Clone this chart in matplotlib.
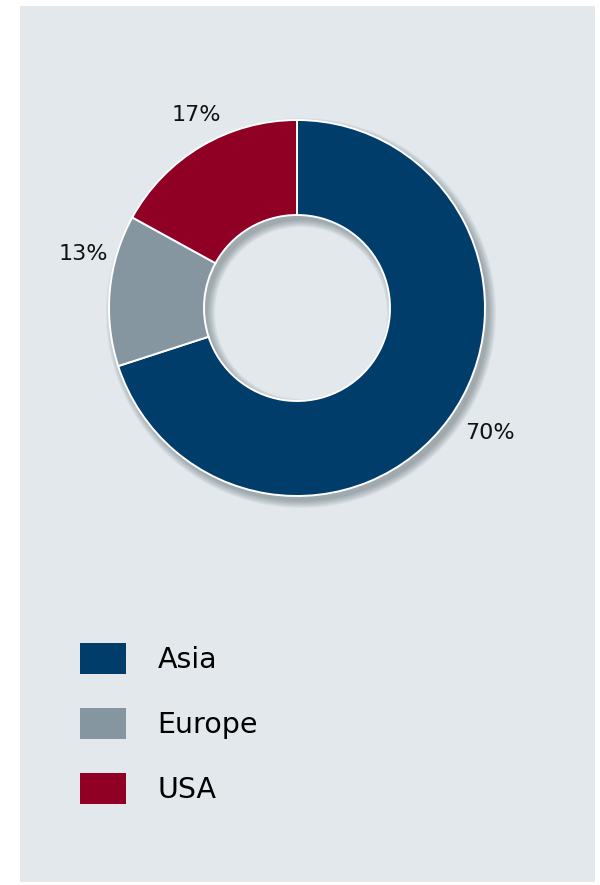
import matplotlib
matplotlib.use('Agg')
import matplotlib.pyplot as plt
from matplotlib.patches import Rectangle, Wedge, Patch

plt.rcParams['font.family'] = ['DejaVu Sans']

regions = ['Asia', 'Europe', 'USA']
shares = [70, 13, 17]
colors = ['#003d6b', '#8696a1', '#900025']

panel_color = '#e2e8eb'

fig = plt.figure(figsize=(6, 8.85), dpi=100)
ax = fig.add_axes([0, 0, 1, 1])
ax.axis('off')

# light panel behind everything
ax.add_patch(Rectangle((20, 3), 575, 876, facecolor=panel_color, edgecolor='none', zorder=0))

cx, cy = 297, 577
R, w = 188, 95

# soft drop shadow under the ring (down-right)
for e in range(8):
    ax.add_patch(Wedge((cx + 4, cy - 5), R + e, 0, 360, width=w + 2 * e,
                       facecolor='#2a3a45', edgecolor='none', alpha=0.05, zorder=1))

wedges, texts, autotexts = ax.pie(
    shares, colors=colors, startangle=90, counterclock=False,
    radius=R, center=(cx, cy), frame=True,
    wedgeprops=dict(width=w, edgecolor='white', linewidth=1.4, zorder=2),
    autopct=lambda p: f'{p:.0f}%', pctdistance=1.19,
    textprops=dict(fontsize=16, color='#111111'))

# nudge labels like the original layout (pixels)
nudges = [(12, 6), (9, 33), (13, 0)]
for t, (dx, dy) in zip(autotexts, nudges):
    x, y = t.get_position()
    t.set_position((x + dx, y + dy))

ax.set_xlim(0, 600)
ax.set_ylim(0, 885)
ax.axis('off')

handles = [Patch(facecolor=c, edgecolor='none') for c in colors]
ax.legend(handles, regions, loc='upper left', bbox_to_anchor=(80, 885 - 643),
          bbox_transform=ax.transData, frameon=False, fontsize=20.5,
          handlelength=1.62, handleheight=1.29, handletextpad=1.1,
          labelspacing=1.2, borderpad=0, borderaxespad=0)

fig.savefig('out.png', dpi=100, facecolor='white')
